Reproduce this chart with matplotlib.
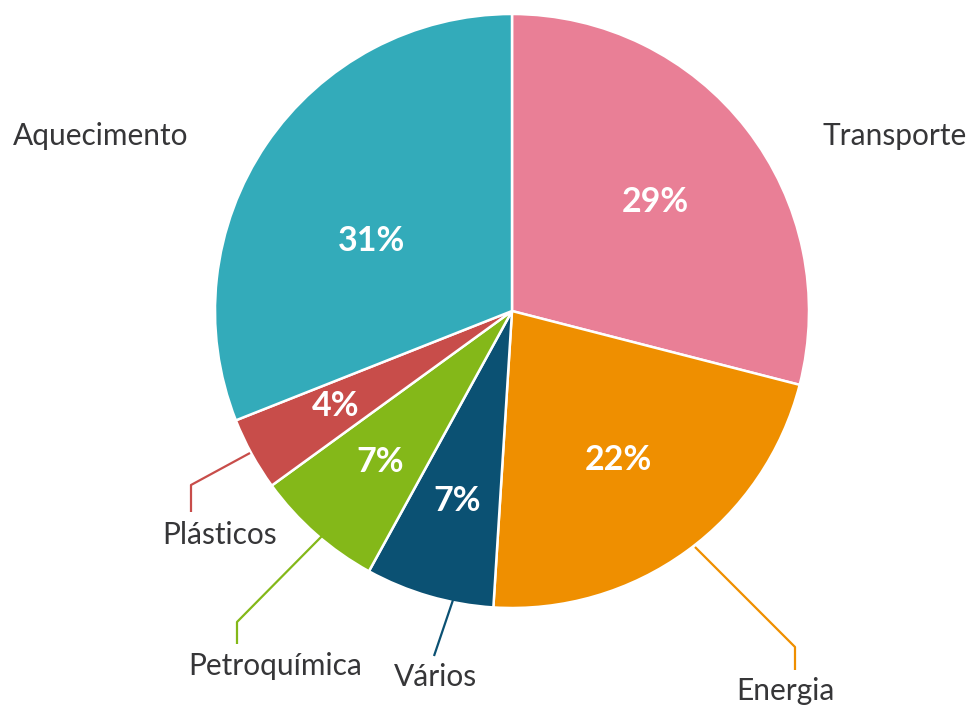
import matplotlib
matplotlib.use("Agg")
import matplotlib.pyplot as plt
import numpy as np

categories = ["Transporte", "Energia", "Vários", "Petroquímica", "Plásticos", "Aquecimento"]
values = [29, 22, 7, 7, 4, 31]
colors = ["#E97F96", "#EF8F00", "#0B5173", "#84B819", "#C84D4A", "#33ABBA"]
pct_dist = [0.61, 0.61, 0.66, 0.67, 0.67, 0.53]
pct_angle_shift = [0, 0, 0, 0, -1, 7]

W, H = 971, 707
fig = plt.figure(figsize=(W / 100, H / 100), dpi=100)
ax = fig.add_axes([0, 0, 1, 1])
ax.set_xlim(0, W)
ax.set_ylim(0, H)
ax.axis("off")

cx, cy, r = 512, H - 311, 297

wedges, _ = ax.pie(values, colors=colors, startangle=90, counterclock=False,
                   center=(cx, cy), radius=r,
                   wedgeprops=dict(edgecolor="white", linewidth=1.8))
ax.set_xlim(0, W)
ax.set_ylim(0, H)
ax.set_aspect("equal")

for w, v, d, s in zip(wedges, values, pct_dist, pct_angle_shift):
    mid = np.deg2rad((w.theta1 + w.theta2) / 2 + s)
    ax.text(cx + d * r * np.cos(mid), cy + d * r * np.sin(mid) - 2, f"{v}%",
            ha="center", va="center", color="white", fontsize=24.5,
            fontweight="bold", family=["Lato", "DejaVu Sans"])

label_color = "#363638"
lab_font = dict(fontsize=21.5, color=label_color, family=["Lato", "DejaVu Sans"],
                ha="center", va="center")

def py(y):
    return H - y

# labels without leader lines
ax.text(101, py(136), "Aquecimento", **lab_font)
ax.text(895, py(136), "Transporte", **lab_font)

# labels with leader lines (pixel coordinates of reference)
leaders = {
    "Plásticos": ([(250, 453), (191, 485), (191, 512)], (220, 535), colors[4]),
    "Petroquímica": ([(323, 535), (237, 622), (237, 644)], (275, 666), colors[3]),
    "Vários": ([(453, 600), (434, 656)], (435, 677), colors[2]),
    "Energia": ([(695, 547), (795, 647), (795, 670)], (785, 691), colors[1]),
}
for name, (pts, lpos, col) in leaders.items():
    xs = [p[0] for p in pts]
    ys = [py(p[1]) for p in pts]
    ax.plot(xs, ys, color=col, lw=1.6, solid_capstyle="butt")
    ax.text(lpos[0], py(lpos[1]), name, **lab_font)

fig.savefig("out.png", dpi=100, facecolor="white")
